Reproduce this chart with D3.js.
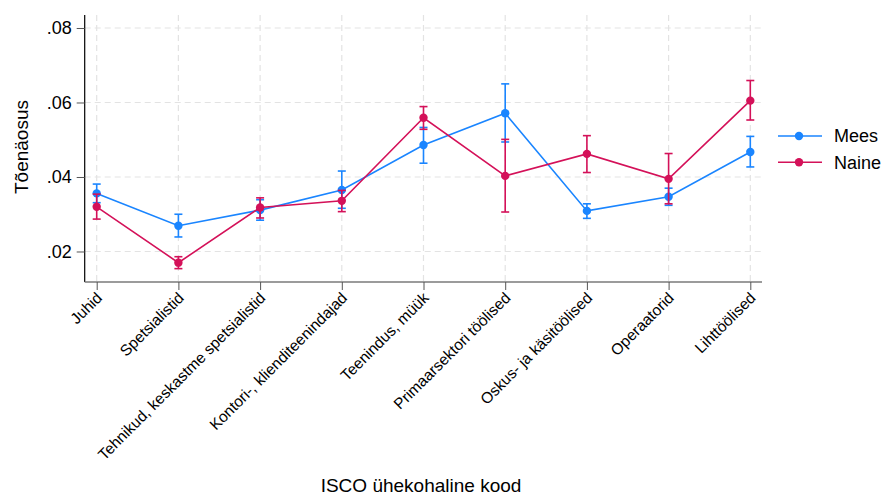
<!DOCTYPE html>
<html>
<head>
<meta charset="utf-8">
<script src="https://cdn.jsdelivr.net/npm/d3@7"></script>
<style>
  html, body { margin: 0; padding: 0; background: #fff; }
  svg { display: block; font-family: "Liberation Sans", Arial, Helvetica, sans-serif; }
</style>
</head>
<body>
<svg id="chart" width="884" height="495"></svg>
<script>
const categories = ["Juhid", "Spetsialistid", "Tehnikud, keskastme spetsialistid", "Kontori-, klienditeenindajad",
  "Teenindus, müük", "Primaarsektori töölised", "Oskus- ja käsitöölised", "Operaatorid", "Lihttöölised"];
const meesMean = [0.0356, 0.0269, 0.0311, 0.0365, 0.0486, 0.0571, 0.0309, 0.0347, 0.0467];
const meesLo   = [0.0331, 0.0239, 0.0284, 0.0316, 0.0437, 0.0494, 0.0289, 0.0324, 0.0427];
const meesHi   = [0.0381, 0.0300, 0.0339, 0.0416, 0.0533, 0.0650, 0.0328, 0.0370, 0.0509];
const naineMean = [0.0320, 0.0170, 0.0318, 0.0336, 0.0559, 0.0403, 0.0462, 0.0395, 0.0605];
const naineLo   = [0.0287, 0.0154, 0.0290, 0.0307, 0.0528, 0.0306, 0.0412, 0.0328, 0.0553];
const naineHi   = [0.0354, 0.0186, 0.0344, 0.0364, 0.0589, 0.0501, 0.0511, 0.0463, 0.0659];
const yTicks = [0.02, 0.04, 0.06, 0.08];
const seriesNames = ["Mees", "Naine"];
const seriesColors = ["#1a85ff", "#d41159"];
const yTitle = "Tõenäosus";
const xTitle = "ISCO ühekohaline kood";

(function () {
const svg = d3.select("#chart");
const pL = 84.7, pR = 762, pT = 15, pB = 282;

const x = d3.scalePoint().domain(categories).range([96.7, 750.3]);
const y = d3.scaleLinear().domain([0.01181, 0.08349]).range([pB, pT]);

// grid
const grid = svg.append("g");
grid.selectAll("line.h").data(yTicks).join("line")
  .attr("x1", pL).attr("x2", pR)
  .attr("y1", d => y(d)).attr("y2", d => y(d))
  .attr("stroke", "#e3e3e3").attr("stroke-width", 1.2).attr("stroke-dasharray", "6,4");
grid.selectAll("line.v").data(categories).join("line")
  .attr("x1", d => x(d)).attr("x2", d => x(d))
  .attr("y1", pT).attr("y2", pB)
  .attr("stroke", "#e3e3e3").attr("stroke-width", 1.2).attr("stroke-dasharray", "6,4");

// y axis
const yAxis = svg.append("g").attr("transform", `translate(${pL},0)`)
  .call(d3.axisLeft(y).tickValues(yTicks).tickSize(8).tickPadding(5)
    .tickFormat(d => d3.format(".2f")(d).replace(/^0/, "")));
yAxis.select(".domain").attr("d", `M0,${pT}V${pB}`).attr("stroke", "#000").attr("stroke-width", 1.2);
yAxis.selectAll(".tick line").attr("stroke", "#555");
yAxis.selectAll("text").attr("font-size", 18).attr("fill", "#000")
  .attr("font-family", "'Liberation Sans', Arial, sans-serif");

// x axis
const xAxis = svg.append("g").attr("transform", `translate(0,${pB})`)
  .call(d3.axisBottom(x).tickSize(8).tickSizeOuter(0));
xAxis.select(".domain").attr("d", `M${pL},0H${pR}`).attr("stroke", "#7a7a7a").attr("stroke-width", 1.5);
xAxis.selectAll(".tick line").attr("stroke", "#555");
xAxis.selectAll("text")
  .attr("font-size", 15.5).attr("fill", "#000")
  .attr("font-family", "'Liberation Sans', Arial, sans-serif")
  .attr("text-anchor", "end")
  .attr("transform", "translate(2,13) rotate(-45)")
  .attr("x", 0).attr("y", 0).attr("dy", "0.35em");

// series
const seriesData = [
  {mean: meesMean, lo: meesLo, hi: meesHi},
  {mean: naineMean, lo: naineLo, hi: naineHi}
];
const cap = 4;
seriesData.forEach((s, si) => {
  const col = seriesColors[si];
  const g = svg.append("g");
  const pts = categories.map((c, i) => ({c, m: s.mean[i], lo: s.lo[i], hi: s.hi[i]}));
  g.selectAll("line.ci").data(pts).join("line")
    .attr("x1", d => x(d.c)).attr("x2", d => x(d.c))
    .attr("y1", d => y(d.lo)).attr("y2", d => y(d.hi))
    .attr("stroke", col).attr("stroke-width", 1.6);
  g.selectAll("line.caph").data(pts).join("line")
    .attr("x1", d => x(d.c) - cap).attr("x2", d => x(d.c) + cap)
    .attr("y1", d => y(d.hi)).attr("y2", d => y(d.hi))
    .attr("stroke", col).attr("stroke-width", 1.6);
  g.selectAll("line.capl").data(pts).join("line")
    .attr("x1", d => x(d.c) - cap).attr("x2", d => x(d.c) + cap)
    .attr("y1", d => y(d.lo)).attr("y2", d => y(d.lo))
    .attr("stroke", col).attr("stroke-width", 1.6);
  g.append("path").datum(pts)
    .attr("d", d3.line().x(d => x(d.c)).y(d => y(d.m)))
    .attr("fill", "none").attr("stroke", col).attr("stroke-width", 1.6);
  g.selectAll("circle").data(pts).join("circle")
    .attr("cx", d => x(d.c)).attr("cy", d => y(d.m)).attr("r", 4.2)
    .attr("fill", col);
});

// legend
const legY = [136, 162.3];
seriesNames.forEach((n, i) => {
  const g = svg.append("g").attr("transform", `translate(0,${legY[i]})`);
  g.append("line").attr("x1", 778).attr("x2", 822).attr("y1", 0).attr("y2", 0)
    .attr("stroke", seriesColors[i]).attr("stroke-width", 1.6);
  g.append("circle").attr("cx", 799).attr("cy", 0).attr("r", 4.2).attr("fill", seriesColors[i]);
  g.append("text").attr("x", 834).attr("y", 0).attr("dy", "0.35em")
    .attr("font-size", 18).attr("fill", "#000").text(n);
});

// titles
svg.append("text").attr("transform", "translate(27.5,147) rotate(-90)")
  .attr("text-anchor", "middle").attr("font-size", 19).attr("fill", "#000").text(yTitle);
svg.append("text").attr("x", 421).attr("y", 492)
  .attr("text-anchor", "middle").attr("font-size", 19).attr("fill", "#000").text(xTitle);
})();
</script>
</body>
</html>
